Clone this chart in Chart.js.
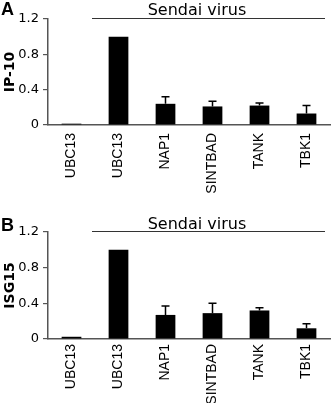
<!DOCTYPE html>
<html><head><meta charset="utf-8">
<script src="https://cdn.jsdelivr.net/npm/chart.js@4"></script>
<style>
html,body{margin:0;padding:0;background:#fff;}
#wrap{position:relative;width:335px;height:403px;overflow:hidden;}
.pane{position:absolute;left:0;width:335px;}
canvas{display:block;}
</style></head><body>
<div id="wrap">
<div class="pane" style="top:0;height:200px"><canvas id="cA" width="335" height="200"></canvas></div>
<div class="pane" style="top:200px;height:203px"><canvas id="cB" width="335" height="203"></canvas></div>
</div>
<script>
const categories = ["UBC13", "UBC13", "NAP1", "SINTBAD", "TANK", "TBK1"];
const ip10Values = [0.015, 1.0, 0.24, 0.21, 0.22, 0.13];
const ip10Errors = [0, 0, 0.08, 0.06, 0.03, 0.09];
const isg15Values = [0.025, 1.0, 0.27, 0.29, 0.32, 0.12];
const isg15Errors = [0, 0, 0.10, 0.11, 0.03, 0.05];
const yTicks = [0, 0.4, 0.8, 1.2];
const groupLabel = "Sendai virus";

const AXIS = '#555';

function makeChart(id, values, errors, yTitle, letter, cfg) {
  const errorBars = {
    id: 'errorBars' + letter,
    afterDatasetsDraw(chart) {
      const ctx = chart.ctx, y = chart.scales.y, meta = chart.getDatasetMeta(0);
      ctx.save();
      ctx.strokeStyle = '#000';
      ctx.lineWidth = 1.5;
      values.forEach((v, i) => {
        const e = errors[i];
        if (!e) return;
        const x = meta.data[i].x;
        const y0 = y.getPixelForValue(v), y1 = y.getPixelForValue(v + e);
        ctx.beginPath();
        ctx.moveTo(x, y0); ctx.lineTo(x, y1);
        ctx.moveTo(x - 4, y1); ctx.lineTo(x + 4, y1);
        ctx.stroke();
      });
      ctx.restore();
    }
  };
  const annot = {
    id: 'annot' + letter,
    afterDraw(chart) {
      const ctx = chart.ctx, xs = chart.scales.x, area = chart.chartArea;
      ctx.save();
      ctx.fillStyle = '#000';
      ctx.font = 'bold 18px "Liberation Sans"';
      ctx.textAlign = 'left';
      ctx.textBaseline = 'alphabetic';
      ctx.fillText(letter, 1, cfg.letterBase);
      const lineY = area.top - 0.5;
      const x0 = (xs.getPixelForValue(0) + xs.getPixelForValue(1)) / 2 - 3;
      const x1 = area.right - 5;
      ctx.strokeStyle = '#333';
      ctx.lineWidth = 1.2;
      ctx.beginPath(); ctx.moveTo(x0, lineY); ctx.lineTo(x1, lineY); ctx.stroke();
      ctx.font = '16px "DejaVu Sans"';
      ctx.textAlign = 'center';
      ctx.fillText(groupLabel, 197, lineY - cfg.textGap);
      ctx.restore();
    }
  };
  return new Chart(document.getElementById(id), {
    type: 'bar',
    data: {
      labels: categories,
      datasets: [{
        data: values,
        backgroundColor: '#000',
        borderWidth: 0,
        barPercentage: 0.42,
        categoryPercentage: 1.0
      }]
    },
    options: {
      responsive: false,
      animation: false,
      devicePixelRatio: 1,
      layout: { padding: { top: cfg.top, right: 5, left: 0, bottom: 0 } },
      plugins: { legend: { display: false }, tooltip: { enabled: false } },
      scales: {
        x: {
          grid: { display: false, drawTicks: false },
          border: { display: true, color: AXIS, width: 1.5 },
          ticks: {
            minRotation: 90, maxRotation: 90, autoSkip: false,
            padding: cfg.xPad,
            color: '#000',
            font: { family: '"Liberation Sans"', size: 14 }
          },
          afterFit(s) { s.height = cfg.xH; }
        },
        y: {
          min: 0, max: 1.2,
          afterBuildTicks(s) { s.ticks = yTicks.map(v => ({ value: v })); },
          grid: { display: true, drawOnChartArea: false, drawTicks: true, tickLength: 5, color: AXIS, lineWidth: 1.2 },
          border: { display: true, color: AXIS, width: 1.5 },
          ticks: {
            padding: 4,
            color: '#000',
            font: { family: '"DejaVu Sans"', size: 13 },
            callback: v => String(v)
          },
          title: {
            display: true, text: yTitle, color: '#000',
            font: { family: '"DejaVu Sans"', size: 14, weight: 'bold' },
            padding: { top: 2, bottom: 0 }
          },
          afterFit(s) { s.width = 48; }
        }
      }
    },
    plugins: [errorBars, annot]
  });
}

makeChart('cA', ip10Values, ip10Errors, 'IP-10', 'A', { top: 19, xH: 75, xPad: 8, letterBase: 15, textGap: 4 });
makeChart('cB', isg15Values, isg15Errors, 'ISG15', 'B', { top: 32, xH: 64, xPad: 5, letterBase: 31, textGap: 3 });
</script>
</body></html>
